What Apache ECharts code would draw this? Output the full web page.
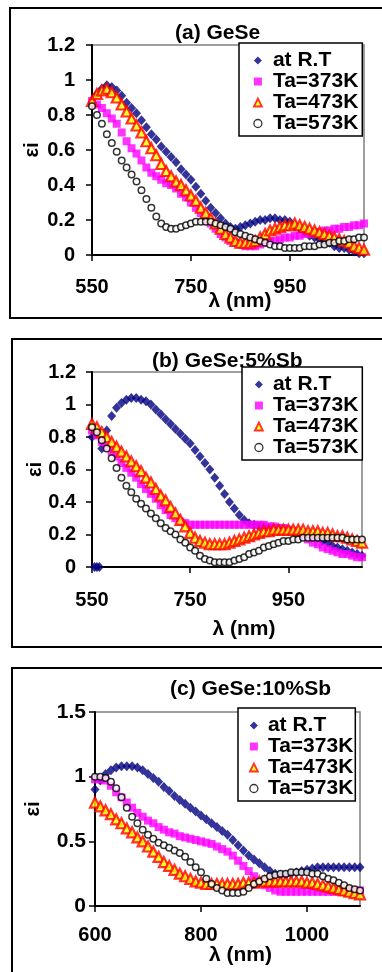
<!DOCTYPE html>
<html><head><meta charset="utf-8">
<script src="https://cdn.jsdelivr.net/npm/echarts@6/dist/echarts.min.js"></script>
<style>html,body{margin:0;padding:0;background:#fff}#c{width:382px;height:972px}</style>
</head><body><div id="c"></div>
<script>
// ---- data ----
const seriesNames = ['at R.T', 'Ta=373K', 'Ta=473K', 'Ta=573K'];
const titles = ['(a) GeSe', '(b) GeSe:5%Sb', '(c) GeSe:10%Sb'];
const xTicksAB = [550, 750, 950];
const xTicksC = [600, 800, 1000];

const lambdaAB = [550,560,570,580,590,600,610,620,630,640,650,660,670,680,690,700,710,720,730,740,750,760,770,780,790,800,810,820,830,840,850,860,870,880,890,900,910,920,930,940,950,960,970,980,990,1000,1010,1020,1030,1040,1050,1060,1070,1080,1090,1100];
const lambdaB_RT = [550,555,560,565,570,580,590,600,610,620,630,640,650,660,670,680,690,700,710,720,730,740,750,760,770,780,790,800,810,820,830,840,850,860,870,880,890,900,910,920,930,940,950,960,970,980,990,1000,1010,1020,1030,1040,1050,1060,1070,1080,1090,1100];
const lambdaC = [600,610,620,630,640,650,660,670,680,690,700,710,720,730,740,750,760,770,780,790,800,810,820,830,840,850,860,870,880,890,900,910,920,930,940,950,960,970,980,990,1000,1010,1020,1030,1040,1050,1060,1070,1080,1090,1100];

// (a) GeSe
const a_RT  = [0.87,0.92,0.95,0.97,0.96,0.94,0.91,0.87,0.84,0.81, 0.77,0.73,0.69,0.66,0.62,0.59,0.56,0.53,0.49,0.46, 0.43,0.39,0.35,0.31,0.27,0.24,0.21,0.18,0.16,0.15, 0.16,0.17,0.18,0.19,0.20,0.20,0.21,0.21,0.20,0.20, 0.19,0.17,0.15,0.13,0.11,0.10,0.09,0.08,0.07,0.05, 0.04,0.04,0.03,0.02,0.01,0.01];
const a_373 = [0.88,0.86,0.84,0.81,0.78,0.75,0.70,0.65,0.61,0.58, 0.54,0.50,0.47,0.45,0.43,0.41,0.40,0.38,0.35,0.33, 0.30,0.27,0.24,0.21,0.18,0.15,0.12,0.10,0.08,0.07, 0.06,0.05,0.05,0.05,0.06,0.07,0.08,0.08,0.09,0.10, 0.10,0.11,0.11,0.12,0.12,0.13,0.13,0.14,0.14,0.15, 0.15,0.16,0.16,0.17,0.17,0.18];
const a_473 = [0.88,0.92,0.94,0.95,0.93,0.90,0.86,0.82,0.78,0.74, 0.70,0.65,0.61,0.57,0.52,0.48,0.45,0.42,0.40,0.37, 0.34,0.31,0.27,0.24,0.21,0.18,0.15,0.12,0.10,0.08, 0.07,0.07,0.07,0.08,0.10,0.12,0.14,0.15,0.16,0.17, 0.17,0.18,0.17,0.16,0.15,0.14,0.13,0.12,0.11,0.10, 0.09,0.08,0.07,0.05,0.04,0.03];
const a_573 = [0.85,0.80,0.75,0.69,0.64,0.59,0.54,0.50,0.46,0.42, 0.37,0.32,0.27,0.22,0.18,0.16,0.15,0.15,0.16,0.17, 0.18,0.19,0.19,0.19,0.19,0.18,0.17,0.16,0.15,0.13, 0.12,0.11,0.10,0.09,0.08,0.07,0.06,0.05,0.05,0.04, 0.04,0.04,0.04,0.05,0.05,0.05,0.06,0.06,0.07,0.07, 0.08,0.08,0.09,0.09,0.10,0.10];

// (b) GeSe:5%Sb
const b_RT  = [0.80,0,0,0,0.73, 0.84,0.93,0.98,1.01,1.03,1.04,1.04,1.03,1.02,1.00, 0.97,0.94,0.91,0.88,0.85,0.82,0.79,0.76,0.72,0.68, 0.64,0.60,0.55,0.50,0.45,0.40,0.36,0.32,0.29,0.27, 0.26,0.25,0.25,0.24,0.24,0.23,0.23,0.22,0.22,0.21, 0.21,0.20,0.19,0.18,0.16,0.15,0.13,0.12,0.11,0.10, 0.09,0.08,0.07];
const b_373 = [0.84,0.81,0.77,0.74,0.71,0.68,0.64,0.61,0.58,0.55, 0.51,0.48,0.45,0.42,0.38,0.35,0.32,0.30,0.28,0.27, 0.26,0.26,0.26,0.26,0.26,0.26,0.26,0.26,0.26,0.26, 0.26,0.26,0.26,0.26,0.26,0.26,0.25,0.25,0.24,0.24, 0.23,0.22,0.21,0.19,0.17,0.15,0.14,0.12,0.11,0.10, 0.09,0.08,0.08,0.07,0.06,0.06];
const b_473 = [0.88,0.86,0.83,0.80,0.77,0.74,0.71,0.68,0.65,0.62, 0.59,0.55,0.52,0.48,0.44,0.41,0.37,0.33,0.29,0.25, 0.21,0.18,0.16,0.15,0.14,0.14,0.14,0.14,0.15,0.16, 0.17,0.18,0.19,0.20,0.21,0.22,0.22,0.23,0.23,0.23, 0.23,0.23,0.23,0.23,0.22,0.22,0.22,0.21,0.21,0.20, 0.19,0.19,0.18,0.17,0.16,0.15];
const b_573 = [0.86,0.83,0.78,0.73,0.67,0.61,0.55,0.50,0.46,0.42, 0.39,0.36,0.33,0.30,0.27,0.24,0.22,0.20,0.17,0.15, 0.12,0.10,0.07,0.05,0.04,0.03,0.03,0.03,0.03,0.04, 0.05,0.06,0.08,0.09,0.10,0.12,0.13,0.14,0.15,0.16, 0.16,0.17,0.17,0.18,0.18,0.18,0.18,0.18,0.18,0.18, 0.18,0.18,0.17,0.17,0.17,0.17];

// (c) GeSe:10%Sb
const c_RT  = [0.90,0.97,1.02,1.05,1.07,1.08,1.08,1.08,1.07,1.05, 1.02,0.99,0.96,0.92,0.89,0.85,0.82,0.79,0.76,0.73, 0.70,0.67,0.64,0.61,0.58,0.55,0.51,0.47,0.43,0.39, 0.36,0.33,0.30,0.27,0.25,0.24,0.24,0.25,0.26,0.27, 0.28,0.29,0.30,0.30,0.30,0.30,0.30,0.30,0.30,0.30, 0.30];
const c_373 = [0.98,0.98,0.97,0.93,0.88,0.84,0.80,0.76,0.72,0.69, 0.66,0.64,0.61,0.59,0.57,0.56,0.54,0.53,0.52,0.51, 0.50,0.49,0.48,0.46,0.44,0.42,0.39,0.35,0.31,0.27, 0.23,0.19,0.16,0.14,0.12,0.11,0.11,0.11,0.11,0.11, 0.11,0.11,0.11,0.11,0.11,0.11,0.11,0.11,0.12,0.12, 0.12];
const c_473 = [0.80,0.77,0.74,0.71,0.67,0.64,0.60,0.57,0.53,0.50, 0.46,0.42,0.38,0.34,0.31,0.28,0.25,0.23,0.21,0.19, 0.18,0.17,0.17,0.17,0.17,0.17,0.17,0.17,0.18,0.18, 0.18,0.19,0.19,0.19,0.19,0.19,0.19,0.19,0.19,0.19, 0.18,0.18,0.17,0.16,0.15,0.14,0.13,0.12,0.11,0.10, 0.09];
const c_573 = [1.00,1.00,0.99,0.96,0.91,0.84,0.76,0.69,0.64,0.59, 0.55,0.52,0.49,0.47,0.45,0.43,0.41,0.38,0.34,0.30, 0.26,0.21,0.17,0.14,0.12,0.10,0.10,0.10,0.11,0.14, 0.17,0.19,0.21,0.23,0.24,0.25,0.25,0.26,0.26,0.26, 0.26,0.25,0.25,0.23,0.21,0.20,0.18,0.16,0.14,0.13, 0.12];

// ---- styles ----
const FONT = '"Liberation Sans", Arial, sans-serif';
const markerStyles = [
  {symbol:'diamond', symbolSize:[9,10], itemStyle:{color:'#000080'}},
  {symbol:'rect', symbolSize:8, itemStyle:{color:'#FF00FF'}},
  {symbol:'triangle', symbolSize:10, itemStyle:{color:'#FFFF00', borderColor:'#FF0000', borderWidth:2.2}},
  {symbol:'circle', symbolSize:6.5, itemStyle:{color:'#FFFFFF', borderColor:'#000000', borderWidth:1.5}}
];
const legendIcons = [
  {name:seriesNames[0], icon:'diamond', itemStyle:{color:'#000080', borderWidth:0}},
  {name:seriesNames[1], icon:'rect', itemStyle:{color:'#FF00FF', borderWidth:0}},
  {name:seriesNames[2], icon:'triangle', itemStyle:{color:'#FFFF00', borderColor:'#FF0000', borderWidth:1.8}},
  {name:seriesNames[3], icon:'circle', itemStyle:{color:'#FFFFFF', borderColor:'#000000', borderWidth:1.3}}
];

const panels = [
  {grid:{left:92, top:45, width:272, height:210}, xmin:550, xmax:1100, xticks:xTicksAB, ymax:1.2, yint:0.2,
   xs:[lambdaAB,lambdaAB,lambdaAB,lambdaAB], ys:[a_RT,a_373,a_473,a_573],
   title:{left:175, top:23}, legend:{left:239, top:43, padding:[7,4,2,14], lh:20, tp:6},
   xLabMargin:22, xNameGap:36, xNamePad:24, yLabMargin:17, yNameGap:50, yFont:20},
  {grid:{left:92, top:372, width:270, height:195}, xmin:550, xmax:1100, xticks:xTicksAB, ymax:1.2, yint:0.2,
   xs:[lambdaB_RT,lambdaAB,lambdaAB,lambdaAB], ys:[b_RT,b_373,b_473,b_573],
   title:{left:152, top:351}, legend:{left:242, top:367, padding:[7,4,2,12], lh:19, tp:5},
   xLabMargin:23, xNameGap:52, xNamePad:34, yLabMargin:16, yNameGap:47, yFont:20},
  {grid:{left:95, top:712, width:265, height:194}, xmin:600, xmax:1100, xticks:xTicksC, ymax:1.5, yint:0.5,
   xs:[lambdaC,lambdaC,lambdaC,lambdaC], ys:[c_RT,c_373,c_473,c_573],
   title:{left:170, top:679}, legend:{left:238, top:708, padding:[7,2,2,11], lh:20, tp:5},
   xLabMargin:19, xNameGap:39, xNamePad:26, yLabMargin:9, yNameGap:52, yFont:21}
];

const option = {
  animation:false,
  textStyle:{fontFamily:FONT},
  title:[], legend:[], grid:[], xAxis:[], yAxis:[], series:[],
  graphic:[
    {type:'rect', silent:true, shape:{x:10, y:8, width:400, height:310}, style:{fill:'none', stroke:'#000', lineWidth:2}},
    {type:'rect', silent:true, shape:{x:12, y:339, width:400, height:308}, style:{fill:'none', stroke:'#000', lineWidth:2}},
    {type:'rect', silent:true, shape:{x:12, y:668, width:400, height:330}, style:{fill:'none', stroke:'#000', lineWidth:2}}
  ]
};

const plain = v => String(v);

panels.forEach((p, i) => {
  option.title.push({text:titles[i], left:p.title.left, top:p.title.top, padding:0, z:1,
    textStyle:{fontFamily:FONT, fontSize:21, fontWeight:'bold', color:'#000'}});
  option.grid.push(Object.assign({show:true, borderColor:'#808080', borderWidth:1.5, backgroundColor:'transparent'}, p.grid));
  option.legend.push({left:p.legend.left, top:p.legend.top, orient:'vertical', padding:p.legend.padding,
    itemGap:0, itemWidth:8, itemHeight:8, symbolKeepAspect:true, selectedMode:false, z:10,
    backgroundColor:'#fff', borderColor:'#000', borderWidth:1.5,
    textStyle:{fontFamily:FONT, fontSize:21, fontWeight:'bold', color:'#000', lineHeight:p.legend.lh, padding:[0,0,0,p.legend.tp]},
    data:legendIcons});
  option.xAxis.push({type:'value', gridIndex:i, min:p.xmin, max:p.xmax,
    axisLine:{show:true, lineStyle:{color:'#000', width:2}},
    axisTick:{show:true, length:6, customValues:p.xticks, lineStyle:{color:'#000', width:1.5}},
    axisLabel:{customValues:p.xticks, formatter:plain, margin:p.xLabMargin, fontFamily:FONT, fontSize:20, fontWeight:'bold', color:'#000'},
    splitLine:{show:false},
    name:'λ (nm)', nameLocation:'middle', nameGap:p.xNameGap, nameMoveOverlap:false,
    nameTextStyle:{fontFamily:FONT, fontSize:21, fontWeight:'bold', color:'#000', padding:[0,0,0,p.xNamePad]}});
  option.yAxis.push({type:'value', gridIndex:i, min:0, max:p.ymax, interval:p.yint,
    axisLine:{show:true, lineStyle:{color:'#000', width:2}},
    axisTick:{show:true, length:6, lineStyle:{color:'#000', width:1.5}},
    axisLabel:{margin:p.yLabMargin, formatter:plain, fontFamily:FONT, fontSize:p.yFont, fontWeight:'bold', color:'#000'},
    splitLine:{show:false},
    name:'εi', nameLocation:'middle', nameGap:p.yNameGap, nameRotate:90, nameMoveOverlap:false,
    nameTextStyle:{fontFamily:FONT, fontSize:20, fontWeight:'bold', color:'#000'}});
  seriesNames.forEach((nm, k) => {
    const xs = p.xs[k], ys = p.ys[k];
    option.series.push(Object.assign({type:'scatter', name:nm, xAxisIndex:i, yAxisIndex:i, silent:true,
      data: xs.map((x, j) => [x, ys[j]])}, markerStyles[k]));
  });
});

const chart = echarts.init(document.getElementById('c'), null, {renderer:'canvas'});
chart.setOption(option);
</script>
</body></html>
